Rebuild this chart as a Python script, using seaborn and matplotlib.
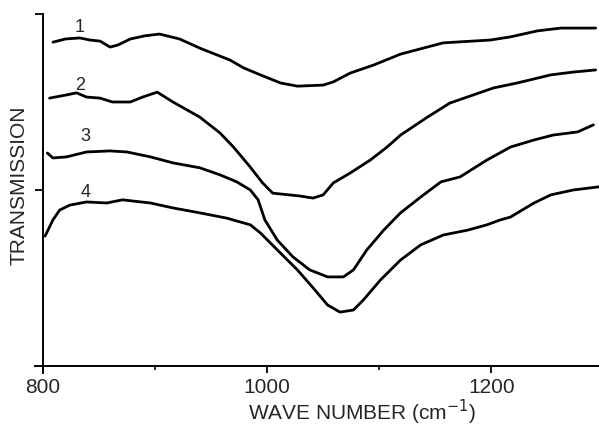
import pandas as pd
import seaborn as sns
import matplotlib.pyplot as plt
from matplotlib.ticker import FixedLocator, NullFormatter

# curve 1
wn1 = [809, 820, 833, 842, 851, 860, 867, 878, 891, 904, 922, 940, 967, 979, 994,
       1012, 1027, 1050, 1059, 1074, 1095, 1119, 1157, 1199, 1217, 1241, 1262, 1293]
tr1 = [92.0, 92.9, 93.2, 92.6, 92.3, 90.6, 91.2, 92.9, 93.8, 94.3, 92.9, 90.3, 86.9, 84.7, 82.7,
       80.4, 79.5, 79.8, 80.7, 83.2, 85.5, 88.6, 91.8, 92.6, 93.5, 95.2, 96.0, 96.0]

# curve 2
wn2 = [806, 821, 830, 839, 851, 862, 878, 889, 902, 916, 940, 958, 970, 985, 996, 1005,
       1029, 1041, 1050, 1059, 1074, 1092, 1107, 1119, 1143, 1163, 1202, 1223, 1253, 1273, 1293]
tr2 = [76.1, 77.0, 77.6, 76.4, 76.1, 75.0, 75.0, 76.4, 77.8, 75.0, 70.7, 66.2, 62.2, 56.5, 52.0, 49.1,
       48.3, 47.7, 48.6, 52.0, 54.8, 58.5, 62.2, 65.6, 70.7, 74.7, 79.0, 80.4, 82.7, 83.5, 84.1]

# curve 3
wn3 = [804, 809, 821, 839, 860, 875, 896, 916, 940, 958, 973, 985, 992, 998, 1009, 1023,
       1038, 1054, 1068, 1077, 1089, 1104, 1119, 1137, 1155, 1172, 1196, 1217, 1238, 1255, 1277, 1291]
tr3 = [60.5, 59.1, 59.4, 60.8, 61.1, 60.8, 59.4, 57.7, 56.3, 54.3, 52.3, 50.0, 47.2, 41.5, 35.8, 31.0,
       27.3, 25.3, 25.3, 27.3, 33.0, 38.6, 43.5, 48.0, 52.3, 53.7, 58.5, 62.2, 64.2, 65.6, 66.5, 68.5]

# curve 4
wn4 = [802, 809, 815, 824, 839, 857, 871, 896, 916, 940, 964, 985, 994, 1009, 1027, 1041,
       1054, 1065, 1077, 1086, 1101, 1119, 1137, 1157, 1179, 1196, 1208, 1217, 1238, 1253, 1273, 1296]
tr4 = [36.9, 41.5, 44.3, 45.7, 46.6, 46.3, 47.2, 46.3, 44.9, 43.5, 42.0, 40.1, 37.8, 33.0, 27.3, 22.2,
       17.3, 15.3, 15.9, 18.8, 24.4, 30.1, 34.4, 37.2, 38.6, 40.1, 41.5, 42.3, 46.3, 48.6, 50.0, 50.9]

curve_names = ["1", "2", "3", "4"]
label_wn = [833, 833, 838, 838]
label_tr = [96.3, 79.8, 65.1, 49.4]

frames = []
for name, w, t in zip(curve_names, [wn1, wn2, wn3, wn4], [tr1, tr2, tr3, tr4]):
    frames.append(pd.DataFrame({"wn": w, "tr": t, "curve": name}))
datos = pd.concat(frames, ignore_index=True)

sns.set_style("ticks")
plt.rcParams['font.family'] = ['Liberation Sans', 'DejaVu Sans']

fig = plt.figure(figsize=(5.99, 4.26), dpi=100)
ax = fig.add_axes([35 / 599, 53 / 426, 564 / 599, 359 / 426])

sns.lineplot(data=datos, x="wn", y="tr", hue="curve", units="curve", estimator=None,
             sort=False, palette=["black"] * 4, linewidth=2.0, legend=False, ax=ax)

for name, x, y in zip(curve_names, label_wn, label_tr):
    ax.text(x, y, name, fontsize=13, ha="center", va="center")

ax.set_xlim(793, 1296)
ax.set_ylim(-2, 100)
ax.spines['left'].set_position(('data', 800))
ax.spines['bottom'].set_position(('data', 0))
ax.spines['top'].set_visible(False)
ax.spines['right'].set_visible(False)
for s in ['left', 'bottom']:
    ax.spines[s].set_linewidth(1.4)
    ax.spines[s].set_color('black')

ax.set_xticks([800, 1000, 1200])
ax.set_xticklabels(["800", "1000", "1200"])
ax.xaxis.set_minor_locator(FixedLocator([900, 1100, 1300]))
ax.set_yticks([50, 100])
ax.yaxis.set_major_formatter(NullFormatter())
ax.tick_params(axis='x', which='major', length=5, width=1.3, labelsize=15, pad=4, color='black')
ax.tick_params(axis='x', which='minor', length=3, width=1.2, color='black')
ax.tick_params(axis='y', which='major', length=6, width=1.3, color='black')
ax.set_xlabel("")
ax.set_ylabel("")

fig.text(362 / 599, 1 - 420 / 426, "WAVE NUMBER (cm$^{-1}$)", fontsize=15,
         ha="center", va="baseline")
fig.text(19 / 599, 1 - 185 / 426, "TRANSMISSION", fontsize=15, rotation=90,
         ha="center", va="center")

fig.savefig("out.png", dpi=100)
plt.close(fig)
